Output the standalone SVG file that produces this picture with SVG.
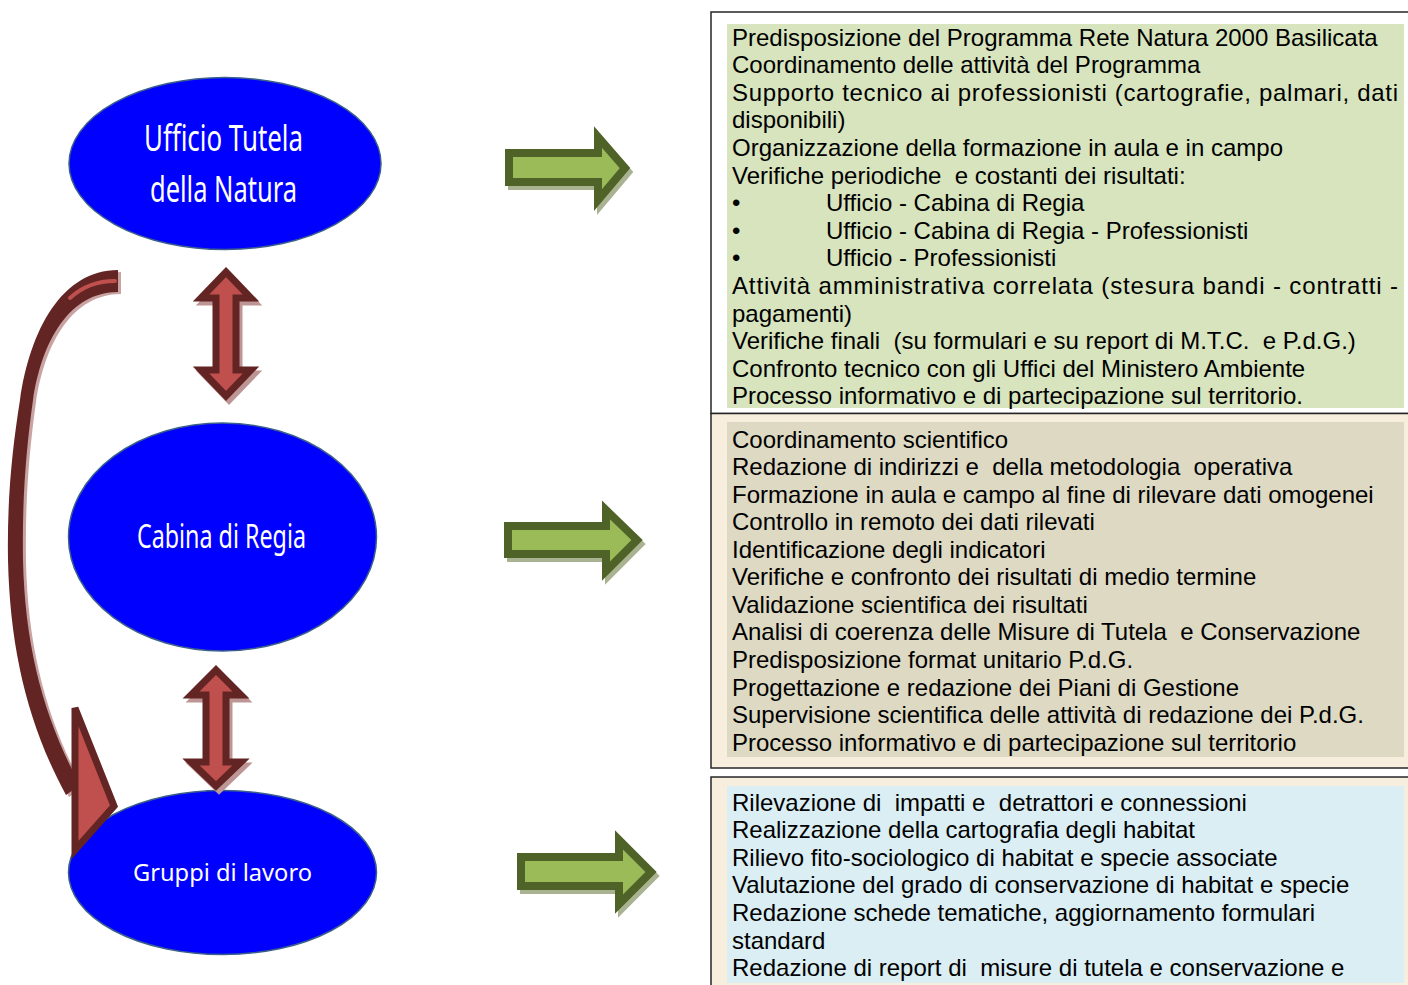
<svg xmlns="http://www.w3.org/2000/svg" width="1408" height="985" viewBox="0 0 1408 985">
<style>
.t{font-family:"Liberation Sans",Arial,sans-serif;font-size:24px;fill:#000;white-space:pre}
.en{fill:#0000FF;stroke:#3A5F8B;stroke-width:1.5}
.el{font-family:"Noto Sans","Open Sans",sans-serif;fill:#FFFFFF;text-anchor:start}
.box{stroke:#262626;stroke-width:1.5}
.ga{fill:#9BBB59;stroke:#4F6228;stroke-width:8;stroke-linejoin:miter}
.gs{fill:#A9B291;stroke:#A9B291;stroke-width:8;stroke-linejoin:miter}
.ra{fill:#C0504D;stroke:#632523;stroke-width:7;stroke-linejoin:miter}
.rs{fill:#BC9594;stroke:#BC9594;stroke-width:7;stroke-linejoin:miter}
</style>
<rect width="1408" height="985" fill="#FFFFFF"/>

<g id="box1">
<rect class="box" x="711" y="12" width="710" height="401.5" fill="#FFFFFF"/>
<rect x="727" y="24" width="677" height="384" fill="#D7E4BD"/>
<text class="t" x="732" y="45.5">Predisposizione del Programma Rete Natura 2000 Basilicata</text>
<text class="t" x="732" y="73.1">Coordinamento delle attività del Programma</text>
<text class="t" x="732" y="100.7" textLength="666" lengthAdjust="spacing">Supporto tecnico ai professionisti (cartografie, palmari, dati</text>
<text class="t" x="732" y="128.3">disponibili)</text>
<text class="t" x="732" y="155.9">Organizzazione della formazione in aula e in campo</text>
<text class="t" x="732" y="183.5">Verifiche periodiche  e costanti dei risultati:</text>
<text class="t" x="732" y="211.1">•<tspan x="826">Ufficio - Cabina di Regia</tspan></text>
<text class="t" x="732" y="238.7">•<tspan x="826">Ufficio - Cabina di Regia - Professionisti</tspan></text>
<text class="t" x="732" y="266.3">•<tspan x="826">Ufficio - Professionisti</tspan></text>
<text class="t" x="732" y="293.9" textLength="666" lengthAdjust="spacing">Attività amministrativa correlata (stesura bandi - contratti -</text>
<text class="t" x="732" y="321.5">pagamenti)</text>
<text class="t" x="732" y="349.1">Verifiche finali  (su formulari e su report di M.T.C.  e P.d.G.)</text>
<text class="t" x="732" y="376.7">Confronto tecnico con gli Uffici del Ministero Ambiente</text>
<text class="t" x="732" y="404.3">Processo informativo e di partecipazione sul territorio.</text>
</g>

<g id="box2">
<rect class="box" x="711" y="413.5" width="710" height="354.5" fill="#F7EEDD"/>
<rect x="727" y="422" width="677" height="335" fill="#DDD9C3"/>
<text class="t" x="732" y="447.5">Coordinamento scientifico</text>
<text class="t" x="732" y="475.1">Redazione di indirizzi e  della metodologia  operativa</text>
<text class="t" x="732" y="502.6">Formazione in aula e campo al fine di rilevare dati omogenei</text>
<text class="t" x="732" y="530.2">Controllo in remoto dei dati rilevati</text>
<text class="t" x="732" y="557.7">Identificazione degli indicatori</text>
<text class="t" x="732" y="585.3">Verifiche e confronto dei risultati di medio termine</text>
<text class="t" x="732" y="612.8">Validazione scientifica dei risultati</text>
<text class="t" x="732" y="640.4">Analisi di coerenza delle Misure di Tutela  e Conservazione</text>
<text class="t" x="732" y="667.9">Predisposizione format unitario P.d.G.</text>
<text class="t" x="732" y="695.5">Progettazione e redazione dei Piani di Gestione</text>
<text class="t" x="732" y="723.0">Supervisione scientifica delle attività di redazione dei P.d.G.</text>
<text class="t" x="732" y="750.5">Processo informativo e di partecipazione sul territorio</text>
</g>

<g id="box3">
<rect class="box" x="711" y="777" width="710" height="230" fill="#F7EEDD"/>
<rect x="727" y="786" width="677" height="197" fill="#DAEEF3"/>
<text class="t" x="732" y="810.5">Rilevazione di  impatti e  detrattori e connessioni</text>
<text class="t" x="732" y="838.1">Realizzazione della cartografia degli habitat</text>
<text class="t" x="732" y="865.7">Rilievo fito-sociologico di habitat e specie associate</text>
<text class="t" x="732" y="893.3">Valutazione del grado di conservazione di habitat e specie</text>
<text class="t" x="732" y="920.9">Redazione schede tematiche, aggiornamento formulari</text>
<text class="t" x="732" y="948.5">standard</text>
<text class="t" x="732" y="976.1">Redazione di report di  misure di tutela e conservazione e</text>
</g>

<g id="ufficio">
<ellipse class="en" cx="225" cy="163.5" rx="156" ry="86"/>
<text class="el" x="144" y="151" font-size="36" textLength="159" lengthAdjust="spacingAndGlyphs">Ufficio Tutela</text>
<text class="el" x="150" y="202" font-size="36" textLength="147" lengthAdjust="spacingAndGlyphs">della Natura</text>
</g>

<g id="cabina">
<ellipse class="en" cx="222.5" cy="537" rx="154" ry="114"/>
<text class="el" x="137" y="548" font-size="32" textLength="169" lengthAdjust="spacingAndGlyphs">Cabina di Regia</text>
</g>

<g id="gruppi">
<ellipse class="en" cx="222.5" cy="872.5" rx="154" ry="82"/>
<text class="el" x="133" y="881" font-size="24" textLength="179" lengthAdjust="spacingAndGlyphs">Gruppi di lavoro</text>
</g>

<g id="connectors">
<!-- green arrows -->
<polygon class="gs" transform="translate(3,4)" points="509,153 598,153 598,137 625,168 598,200 598,182 509,182"/>
<polygon class="ga" points="509,153 598,153 598,137 625,168 598,200 598,182 509,182"/>
<polygon class="gs" transform="translate(3,4)" points="508,526 606,526 606,510 637,540 606,571 606,554 508,554"/>
<polygon class="ga" points="508,526 606,526 606,510 637,540 606,571 606,554 508,554"/>
<polygon class="gs" transform="translate(3,4)" points="521,857 619,857 619,840 651,872 619,904 619,886 521,886"/>
<polygon class="ga" points="521,857 619,857 619,840 651,872 619,904 619,886 521,886"/>

<!-- double arrows -->
<polygon class="rs" transform="translate(3,4)" points="226,272 251,298 236,298 236,370 251,370 226,396 201,370 216,370 216,298 201,298"/>
<polygon class="ra" points="226,272 251,298 236,298 236,370 251,370 226,396 201,370 216,370 216,298 201,298"/>
<polygon class="rs" transform="translate(3,4)" points="216,670 241,695 226,695 226,762 241,762 216,786 191,762 206,762 206,695 191,695"/>
<polygon class="ra" points="216,670 241,695 226,695 226,762 241,762 216,786 191,762 206,762 206,695 191,695"/>

<!-- curved arrow -->
<path transform="translate(3,2)" fill="#C9A3A2" d="M118,270 C62,270 30,330 20,400 C12,450 7,500 8,560 C10,650 28,725 66,795 L80,785 C45,720 25,650 23,560 C22,500 26,450 33,400 C42,340 70,292 118,292 Z"/>
<path fill="#632523" d="M118,270 C62,270 30,330 20,400 C12,450 7,500 8,560 C10,650 28,725 66,795 L80,785 C45,720 25,650 23,560 C22,500 26,450 33,400 C42,340 70,292 118,292 Z"/>
<path fill="none" stroke="#C0504D" stroke-width="4" stroke-linecap="round" d="M115,281 C96,281 82,287 70,298"/>
<polygon class="ra" points="75,708 114,806 75,850"/>
</g>
</svg>
